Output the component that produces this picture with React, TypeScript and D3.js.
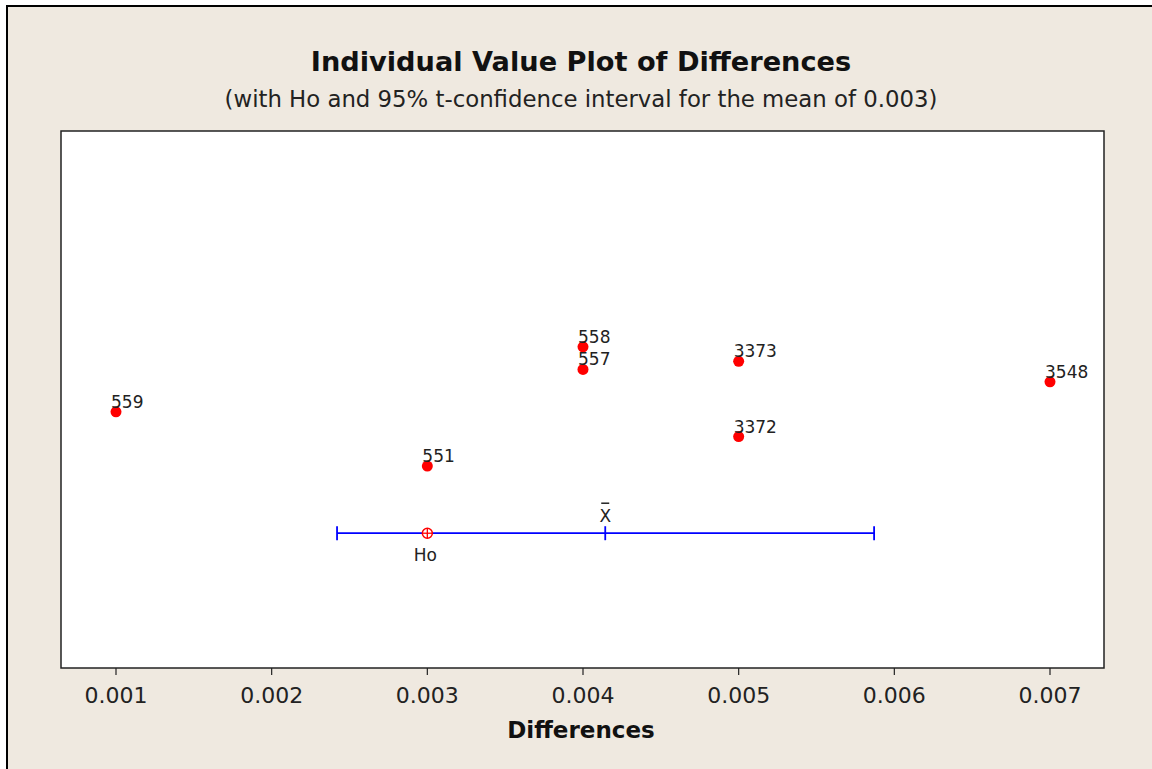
import React from "react";
import * as d3 from "d3";

const ids = ["559", "551", "558", "557", "3373", "3372", "3548"];
const differences = [0.001, 0.003, 0.004, 0.004, 0.005, 0.005, 0.007];
const jitter = [0.477, 0.376, 0.598, 0.556, 0.571, 0.431, 0.533];
const xTicks = [0.001, 0.002, 0.003, 0.004, 0.005, 0.006, 0.007];
const ho = 0.003;
const ciLow = 0.00242;
const ciHigh = 0.00587;
const ciLevel = 0.251;

const W = 1152;
const H = 769;
const plot = { left: 61, top: 131, right: 1104, bottom: 668 };
const FONT = "'DejaVu Sans', Verdana, sans-serif";

export default function App() {
  const x = d3.scaleLinear().domain([0.001, 0.007]).range([116, 1050]);
  const y = d3.scaleLinear().domain([0, 1]).range([plot.bottom, plot.top]);
  const mean = d3.mean(differences) as number;
  const cy = y(ciLevel);
  const fmt = d3.format(".3f");

  return (
    <svg width={W} height={H} style={{ position: "absolute", left: 0, top: 0, background: "#fff" }}>
      <rect x={7} y={6} width={W + 10} height={H + 10} fill="#EFE9E0" stroke="#000" strokeWidth={2} />
      <text x={581} y={71} textAnchor="middle" fontFamily={FONT} fontWeight="bold" fontSize={27.2} fill="#111">
        Individual Value Plot of Differences
      </text>
      <text x={581} y={107} textAnchor="middle" fontFamily={FONT} fontSize={22.8} fill="#222">
        (with Ho and 95% t-confidence interval for the mean of 0.003)
      </text>
      <rect
        x={plot.left}
        y={plot.top}
        width={plot.right - plot.left}
        height={plot.bottom - plot.top}
        fill="#fff"
        stroke="#222"
        strokeWidth={1.5}
      />
      {xTicks.map((t) => (
        <g key={t}>
          <line x1={x(t)} x2={x(t)} y1={plot.bottom} y2={plot.bottom + 7} stroke="#222" strokeWidth={1.2} />
          <text x={x(t)} y={703} textAnchor="middle" fontFamily={FONT} fontSize={22} fill="#222">
            {fmt(t)}
          </text>
        </g>
      ))}
      <text x={581} y={738} textAnchor="middle" fontFamily={FONT} fontWeight="bold" fontSize={23} fill="#111">
        Differences
      </text>
      {/* CI */}
      <line x1={x(ciLow)} x2={x(ciHigh)} y1={cy} y2={cy} stroke="#0000FF" strokeWidth={1.8} />
      {[ciLow, ciHigh, mean].map((v, i) => (
        <line key={i} x1={x(v)} x2={x(v)} y1={cy - 7} y2={cy + 7} stroke="#0000FF" strokeWidth={1.8} />
      ))}
      <text x={x(mean)} y={cy - 11} textAnchor="middle" fontFamily={FONT} fontSize={17} fill="#222">
        X
      </text>
      <line x1={x(mean) - 4} x2={x(mean) + 4} y1={cy - 30} y2={cy - 30} stroke="#222" strokeWidth={1.5} />
      <circle cx={x(ho)} cy={cy} r={5} fill="#fff" stroke="#FF0000" strokeWidth={1.5} />
      <line x1={x(ho) - 5} x2={x(ho) + 5} y1={cy} y2={cy} stroke="#FF0000" strokeWidth={1.3} />
      <line x1={x(ho)} x2={x(ho)} y1={cy - 5} y2={cy + 5} stroke="#FF0000" strokeWidth={1.3} />
      <text x={x(ho) - 2} y={cy + 28} textAnchor="middle" fontFamily={FONT} fontSize={17} fill="#222">
        Ho
      </text>
      {differences.map((d, i) => (
        <g key={ids[i]}>
          <circle cx={x(d)} cy={y(jitter[i])} r={5.5} fill="#FF0000" />
          <text x={x(d) - 5} y={y(jitter[i]) - 4} fontFamily={FONT} fontSize={17} fill="#222">
            {ids[i]}
          </text>
        </g>
      ))}
    </svg>
  );
}
